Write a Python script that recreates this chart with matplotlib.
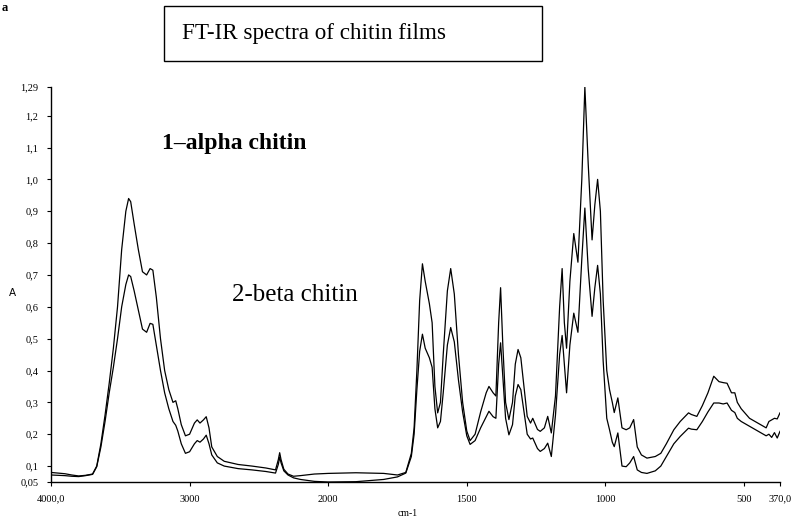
import numpy as np
import matplotlib
matplotlib.use('Agg')
import matplotlib.pyplot as plt
from matplotlib.patches import Rectangle

# wavenumbers (cm-1) and absorbance of the two films
wavenumber = [4000, 3950, 3900, 3850, 3800, 3750, 3700, 3670, 3640, 3610,
              3580, 3550, 3520, 3490, 3460, 3440, 3425, 3400, 3370, 3340,
              3310, 3285, 3265, 3240, 3210, 3180, 3150, 3120, 3100, 3085,
              3060, 3030, 3000, 2965, 2945, 2925, 2900, 2880, 2860, 2840,
              2800, 2750, 2650, 2550, 2450, 2380, 2360, 2350, 2340, 2320,
              2290, 2250, 2200, 2100, 2000, 1900, 1800, 1750, 1720, 1700,
              1690, 1680, 1670, 1660, 1650, 1635, 1625, 1615, 1605, 1595,
              1585, 1570, 1558, 1545, 1530, 1515, 1500, 1488, 1470, 1450,
              1430, 1420, 1405, 1395, 1385, 1378, 1370, 1360, 1348, 1335,
              1325, 1315, 1305, 1295, 1282, 1270, 1262, 1245, 1235, 1220,
              1208, 1195, 1180, 1165, 1156, 1148, 1140, 1128, 1114, 1099,
              1085, 1074, 1062, 1048, 1038, 1028, 1018, 1008, 995, 985,
              975, 968, 955, 940, 925, 912, 898, 885, 870, 850,
              820, 800, 780, 753, 730, 700, 690, 670, 650, 630,
              609, 590, 575, 561, 545, 533, 524, 510, 480, 450,
              420, 410, 400, 390, 380, 370]

alpha_abs = [0.080, 0.078, 0.076, 0.072, 0.069, 0.071, 0.075, 0.100, 0.170, 0.260,
             0.360, 0.470, 0.600, 0.780, 0.900, 0.940, 0.930, 0.860, 0.780, 0.710,
             0.700, 0.720, 0.715, 0.630, 0.500, 0.400, 0.340, 0.300, 0.305, 0.280,
             0.230, 0.195, 0.200, 0.235, 0.245, 0.235, 0.245, 0.255, 0.220, 0.160,
             0.130, 0.115, 0.105, 0.100, 0.094, 0.088, 0.120, 0.142, 0.120, 0.090,
             0.075, 0.068, 0.070, 0.075, 0.077, 0.079, 0.077, 0.072, 0.080, 0.140,
             0.220, 0.400, 0.620, 0.735, 0.680, 0.610, 0.550, 0.350, 0.267, 0.300,
             0.450, 0.650, 0.720, 0.640, 0.450, 0.300, 0.210, 0.180, 0.200, 0.270,
             0.330, 0.350, 0.330, 0.320, 0.550, 0.660, 0.480, 0.300, 0.246, 0.300,
             0.420, 0.466, 0.440, 0.360, 0.256, 0.235, 0.250, 0.215, 0.209, 0.220,
             0.256, 0.204, 0.320, 0.600, 0.720, 0.550, 0.470, 0.680, 0.830, 0.740,
             1.000, 1.290, 1.050, 0.810, 0.920, 1.000, 0.900, 0.620, 0.400, 0.340,
             0.300, 0.268, 0.314, 0.220, 0.214, 0.220, 0.246, 0.160, 0.135, 0.125,
             0.130, 0.140, 0.170, 0.214, 0.240, 0.267, 0.262, 0.256, 0.290, 0.330,
             0.382, 0.365, 0.362, 0.360, 0.330, 0.330, 0.300, 0.280, 0.250, 0.235,
             0.220, 0.240, 0.245, 0.250, 0.248, 0.267]

beta_abs = [0.072, 0.071, 0.070, 0.068, 0.067, 0.070, 0.074, 0.098, 0.160, 0.240,
            0.330, 0.410, 0.500, 0.600, 0.670, 0.700, 0.695, 0.650, 0.590, 0.530,
            0.520, 0.548, 0.545, 0.480, 0.400, 0.330, 0.280, 0.240, 0.228, 0.210,
            0.170, 0.140, 0.145, 0.170, 0.180, 0.175, 0.185, 0.197, 0.170, 0.135,
            0.110, 0.100, 0.092, 0.088, 0.083, 0.078, 0.105, 0.128, 0.110, 0.085,
            0.072, 0.063, 0.058, 0.052, 0.050, 0.051, 0.058, 0.066, 0.078, 0.130,
            0.200, 0.340, 0.460, 0.514, 0.470, 0.440, 0.410, 0.280, 0.220, 0.240,
            0.330, 0.480, 0.535, 0.490, 0.370, 0.270, 0.195, 0.168, 0.180, 0.220,
            0.255, 0.272, 0.255, 0.250, 0.420, 0.487, 0.380, 0.250, 0.198, 0.230,
            0.320, 0.356, 0.340, 0.280, 0.200, 0.185, 0.188, 0.155, 0.146, 0.155,
            0.172, 0.130, 0.260, 0.450, 0.510, 0.420, 0.330, 0.480, 0.580, 0.520,
            0.750, 0.910, 0.720, 0.570, 0.660, 0.730, 0.640, 0.430, 0.250, 0.214,
            0.175, 0.161, 0.204, 0.100, 0.098, 0.110, 0.130, 0.088, 0.080, 0.077,
            0.085, 0.100, 0.130, 0.170, 0.193, 0.219, 0.216, 0.214, 0.240, 0.270,
            0.298, 0.298, 0.295, 0.298, 0.275, 0.268, 0.250, 0.240, 0.225, 0.210,
            0.195, 0.200, 0.190, 0.205, 0.188, 0.209]

x_ticks = [4000, 3000, 2000, 1500, 1000, 500, 370]
x_labels = ['4000,0', '3000', '2000', '1500', '1000', '500', '370,0']
y_ticks = [0.05, 0.1, 0.2, 0.3, 0.4, 0.5, 0.6, 0.7, 0.8, 0.9, 1.0, 1.1, 1.2, 1.29]
y_labels = ['0,05', '0,1', '0,2', '0,3', '0,4', '0,5', '0,6', '0,7', '0,8',
            '0,9', '1,0', '1,1', '1,2', '1,29']


# spectrometer axis: scale doubles below 2000 cm-1
def forward(x):
    x = np.asarray(x, dtype=float)
    return np.where(x >= 2000, x, 2 * x - 2000)


def inverse(u):
    u = np.asarray(u, dtype=float)
    return np.where(u >= 2000, u, (u + 2000) / 2)


plt.rcParams['font.family'] = ['Liberation Serif', 'DejaVu Serif']

fig = plt.figure(figsize=(7.99, 5.23), dpi=100)
ax = fig.add_axes([51 / 799, 41 / 523, 729 / 799, 395 / 523])

ax.plot(wavenumber, alpha_abs, color='black', lw=0.9)
ax.plot(wavenumber, beta_abs, color='black', lw=0.9)

ax.set_xscale('function', functions=(forward, inverse))
ax.set_xlim(4000, 370)
ax.set_ylim(0.05, 1.29)

ax.set_xticks(x_ticks)
ax.set_xticklabels(x_labels)
ax.set_yticks(y_ticks)
ax.set_yticklabels(y_labels)
ax.minorticks_off()
ax.tick_params(axis='both', labelsize=7.5, length=3, width=0.8, pad=6)

for side in ['top', 'right']:
    ax.spines[side].set_visible(False)
ax.spines['left'].set_linewidth(1.0)
ax.spines['bottom'].set_linewidth(1.0)

fig.text(12 / 799, 1 - 293 / 523, 'A', fontsize=7.5, family='DejaVu Sans',
         ha='center', va='center')
fig.text(408 / 799, 1 - 513 / 523, 'cm-1', fontsize=7, ha='center', va='center')
fig.text(2 / 799, 1 - 8 / 523, 'a', fontsize=9, fontweight='bold',
         ha='left', va='center')

# title box
fig.patches.append(Rectangle((164 / 799, 1 - 61 / 523), 378 / 799, 55 / 523,
                             transform=fig.transFigure, fill=False,
                             edgecolor='black', lw=1.0))
fig.text(182 / 799, 1 - 33 / 523, 'FT-IR spectra of chitin films', fontsize=16.7,
         ha='left', va='center')

fig.text(162 / 799, 1 - 143 / 523, '1\u2013alpha chitin', fontsize=17,
         fontweight='bold', ha='left', va='center')
fig.text(232 / 799, 1 - 295 / 523, '2-beta chitin', fontsize=18,
         ha='left', va='center')

fig.savefig('out.png', dpi=100)
